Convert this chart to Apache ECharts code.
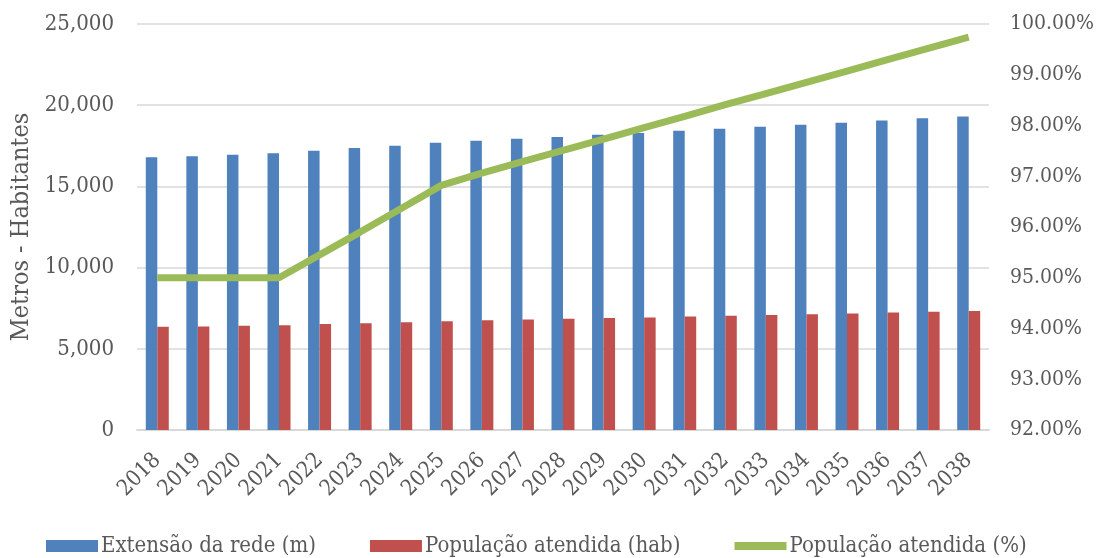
<!DOCTYPE html>
<html>
<head>
<meta charset="utf-8">
<script src="https://cdn.jsdelivr.net/npm/echarts@6/dist/echarts.min.js"></script>
<style>
  html, body { margin: 0; padding: 0; background: #ffffff; }
  #chart { width: 1103px; height: 558px; }
</style>
</head>
<body>
<div id="chart"></div>
<script>
const years = ['2018','2019','2020','2021','2022','2023','2024','2025','2026','2027','2028','2029','2030','2031','2032','2033','2034','2035','2036','2037','2038'];
const extensaoRede = [16790, 16850, 16955, 17035, 17200, 17360, 17505, 17690, 17815, 17935, 18040, 18185, 18290, 18430, 18555, 18675, 18800, 18920, 19065, 19190, 19310];
const populacaoHab = [6355, 6375, 6415, 6455, 6520, 6580, 6640, 6700, 6765, 6805, 6850, 6890, 6930, 6990, 7030, 7075, 7135, 7175, 7235, 7280, 7320];
const populacaoPct = [95.0, 95.0, 95.0, 95.0, 95.45, 95.9, 96.36, 96.82, 97.06, 97.29, 97.51, 97.73, 97.96, 98.18, 98.41, 98.63, 98.85, 99.07, 99.30, 99.52, 99.74];
const seriesNames = ['Extensão da rede (m)', 'População atendida (hab)', 'População atendida (%)'];
const leftTicks = { min: 0, max: 25000, interval: 5000 };
const rightTicks = { min: 92, max: 100, interval: 1 };

const FONT = "'DejaVu Serif Condensed', 'DejaVu Serif', serif";
const TXT = '#595959';
const chart = echarts.init(document.getElementById('chart'), null, { renderer: 'canvas' });
chart.setOption({
  backgroundColor: '#ffffff',
  animation: false,
  textStyle: { fontFamily: FONT, color: TXT },
  grid: { left: 137, right: 114, top: 24, bottom: 128, containLabel: false },
  legend: {
    left: 41, top: 530,
    itemWidth: 52, itemHeight: 12, itemGap: 54,
    textStyle: { fontFamily: FONT, fontSize: 22, color: TXT, padding: [0, 0, 0, -2] },
    data: [
      { name: seriesNames[0], icon: 'rect' },
      { name: seriesNames[1], icon: 'rect' },
      { name: seriesNames[2], icon: 'path://M0,0 L0,0 M0,2 L52,2 L52,10 L0,10 Z M52,12 L52,12' }
    ]
  },
  xAxis: {
    type: 'category',
    data: years,
    axisLine: { lineStyle: { color: '#d9d9d9', width: 2 } },
    axisTick: { show: false },
    axisLabel: { rotate: 45, fontSize: 22, color: TXT, fontFamily: FONT, margin: 27, interval: 0 }
  },
  yAxis: [
    {
      type: 'value', min: leftTicks.min, max: leftTicks.max, interval: leftTicks.interval,
      name: 'Metros - Habitantes', nameLocation: 'middle', nameRotate: 90, nameGap: 101,
      nameTextStyle: { fontSize: 25, color: TXT, fontFamily: FONT },
      axisLine: { show: false }, axisTick: { show: false },
      axisLabel: { fontSize: 22, color: TXT, fontFamily: FONT, margin: 23,
        formatter: v => v.toLocaleString('en-US') },
      splitLine: { lineStyle: { color: '#d9d9d9', width: 1.5 } }
    },
    {
      type: 'value', min: rightTicks.min, max: rightTicks.max, interval: rightTicks.interval,
      position: 'right',
      axisLine: { show: false }, axisTick: { show: false },
      axisLabel: { fontSize: 21, color: TXT, fontFamily: FONT, margin: 21,
        formatter: v => v.toFixed(2) + '%' },
      splitLine: { show: false }
    }
  ],
  series: [
    { name: seriesNames[0], type: 'bar', data: extensaoRede, yAxisIndex: 0,
      barWidth: 11.5, barGap: '0%', itemStyle: { color: '#4f81bd' } },
    { name: seriesNames[1], type: 'bar', data: populacaoHab, yAxisIndex: 0,
      barWidth: 11.5, barGap: '0%', itemStyle: { color: '#c0504d' } },
    { name: seriesNames[2], type: 'line', data: populacaoPct, yAxisIndex: 1,
      symbol: 'none', lineStyle: { color: '#9bbb59', width: 7 }, itemStyle: { color: '#9bbb59' } }
  ]
});
</script>
</body>
</html>
